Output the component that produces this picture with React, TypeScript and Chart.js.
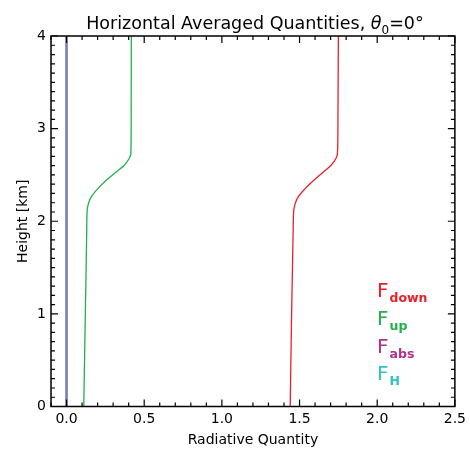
import React, { useEffect, useRef } from "react";
import { Chart, registerables } from "chart.js";

Chart.register(...registerables);

const heights = [0, 1.0, 1.9, 2.12, 2.19, 2.26, 2.35, 2.44, 2.53, 2.605, 2.68, 2.73, 3.0, 4.0];
const fUp = [0.111, 0.121, 0.13, 0.133, 0.141, 0.158, 0.2, 0.254, 0.318, 0.372, 0.404, 0.414, 0.416, 0.417];
const fDown = [1.44, 1.449, 1.459, 1.463, 1.472, 1.49, 1.535, 1.59, 1.652, 1.703, 1.735, 1.744, 1.747, 1.75];
const absHeights = [0, 4];
const fAbs = [0, 0];
const fH = [0, 0];

const xTicks = [0, 0.5, 1.0, 1.5, 2.0, 2.5];
const yTicks = [0, 1, 2, 3, 4];
const legendItems = [
  { main: "F", sub: "down", color: "#e8202a" },
  { main: "F", sub: "up", color: "#22b04a" },
  { main: "F", sub: "abs", color: "#b0308c" },
  { main: "F", sub: "H", color: "#30c4c0" },
];

const FONT = "'DejaVu Sans', sans-serif";

const framePlugin = {
  id: "frame",
  afterDatasetsDraw(chart: any) {
    const { ctx, chartArea: a, scales } = chart;
    const xs = scales.x;
    const ys = scales.y;
    ctx.save();
    ctx.strokeStyle = "#000";
    ctx.lineWidth = 1.5;
    ctx.strokeRect(a.left, a.top, a.right - a.left, a.bottom - a.top);
    ctx.lineWidth = 1.2;
    ctx.beginPath();
    for (let i = -1; i <= 25; i++) {
      const v = i / 10;
      const px = xs.getPixelForValue(v);
      const len = i % 5 === 0 ? 7 : 4;
      ctx.moveTo(px, a.bottom);
      ctx.lineTo(px, a.bottom - len);
      ctx.moveTo(px, a.top);
      ctx.lineTo(px, a.top + len);
    }
    for (let i = 0; i <= 40; i++) {
      const v = i / 10;
      const py = ys.getPixelForValue(v);
      const len = i % 10 === 0 ? 7 : 4;
      ctx.moveTo(a.left, py);
      ctx.lineTo(a.left + len, py);
      ctx.moveTo(a.right, py);
      ctx.lineTo(a.right - len, py);
    }
    ctx.stroke();
    ctx.restore();
  },
  afterDraw(chart: any) {
    const { ctx, chartArea: a } = chart;
    ctx.save();
    ctx.fillStyle = "#000";
    // Title
    const t1 = "Horizontal Averaged Quantities, ";
    const th = "\u03b8";
    const sub0 = "0";
    const t2 = "=0\u00b0";
    const fs = 17.5;
    ctx.font = `${fs}px ${FONT}`;
    const w1 = ctx.measureText(t1).width;
    ctx.font = `italic ${fs}px ${FONT}`;
    const wth = ctx.measureText(th).width;
    ctx.font = `12px ${FONT}`;
    const ws = ctx.measureText(sub0).width;
    ctx.font = `${fs}px ${FONT}`;
    const w2 = ctx.measureText(t2).width;
    const total = w1 + wth + ws + w2;
    let x = (a.left + a.right) / 2 - total / 2 + 2;
    const base = 29;
    ctx.textBaseline = "alphabetic";
    ctx.textAlign = "left";
    ctx.font = `${fs}px ${FONT}`;
    ctx.fillText(t1, x, base);
    x += w1;
    ctx.font = `italic ${fs}px ${FONT}`;
    ctx.fillText(th, x, base);
    x += wth;
    ctx.font = `12px ${FONT}`;
    ctx.fillText(sub0, x, base + 5);
    x += ws;
    ctx.font = `${fs}px ${FONT}`;
    ctx.fillText(t2, x, base);

    // Axis titles
    ctx.font = `14px ${FONT}`;
    ctx.textAlign = "center";
    ctx.fillText("Radiative Quantity", (a.left + a.right) / 2, 444);
    ctx.save();
    ctx.translate(27, (a.top + a.bottom) / 2);
    ctx.rotate(-Math.PI / 2);
    ctx.fillText("Height [km]", 0, 0);
    ctx.restore();

    // Legend
    ctx.textAlign = "left";
    legendItems.forEach((it, i) => {
      const bx = 377;
      const by = 297 + i * 27.8;
      ctx.fillStyle = it.color;
      ctx.font = `20px ${FONT}`;
      ctx.fillText(it.main, bx, by);
      const fw = ctx.measureText(it.main).width;
      ctx.font = `bold 12.5px ${FONT}`;
      ctx.fillText(it.sub, bx + fw + 1, by + 5);
    });
    ctx.restore();
  },
};

export default function App() {
  const ref = useRef<HTMLCanvasElement | null>(null);
  useEffect(() => {
    document.body.style.margin = "0";
    const toPts = (xs: number[], ys: number[]) => xs.map((v, i) => ({ x: v, y: ys[i] }));
    const chart = new Chart(ref.current as HTMLCanvasElement, {
      type: "line",
      data: {
        datasets: [
          {
            label: "F_H",
            data: toPts(fH, absHeights),
            borderColor: "#5f8db3",
            borderWidth: 2,
            pointRadius: 0,
          },
          {
            label: "F_abs",
            data: toPts(fAbs, absHeights),
            borderColor: "#b0308c",
            borderWidth: 2,
            pointRadius: 0,
          },
          {
            label: "F_up",
            data: toPts(fUp, heights),
            borderColor: "#22b04a",
            borderWidth: 1.3,
            pointRadius: 0,
            cubicInterpolationMode: "monotone",
          },
          {
            label: "F_down",
            data: toPts(fDown, heights),
            borderColor: "#e8202a",
            borderWidth: 1.3,
            pointRadius: 0,
            cubicInterpolationMode: "monotone",
          },
        ],
      },
      options: {
        animation: false,
        responsive: false,
        indexAxis: "y",
        layout: { padding: { top: 36, right: 13, left: 0, bottom: 0 } },
        plugins: { legend: { display: false }, tooltip: { enabled: false }, title: { display: false } },
        scales: {
          x: {
            type: "linear",
            min: -0.1,
            max: 2.5,
            grid: { display: false, drawTicks: false },
            border: { display: false },
            afterBuildTicks: (s: any) => {
              s.ticks = xTicks.map((v) => ({ value: v }));
            },
            afterFit: (s: any) => {
              s.height = 43.5;
            },
            ticks: {
              color: "#000",
              font: { family: FONT, size: 14 },
              padding: 4,
              maxRotation: 0,
              callback: (v: any) => Number(v).toFixed(1),
            },
          },
          y: {
            type: "linear",
            min: 0,
            max: 4,
            grid: { display: false, drawTicks: false },
            border: { display: false },
            afterBuildTicks: (s: any) => {
              s.ticks = yTicks.map((v) => ({ value: v }));
            },
            afterFit: (s: any) => {
              s.width = 51;
            },
            ticks: {
              color: "#000",
              font: { family: FONT, size: 14 },
              padding: 5,
              callback: (v: any) => String(v),
            },
          },
        },
      },
      plugins: [framePlugin],
    } as any);
    return () => chart.destroy();
  }, []);
  return <canvas ref={ref} width={470} height={450} style={{ display: "block" }} />;
}
